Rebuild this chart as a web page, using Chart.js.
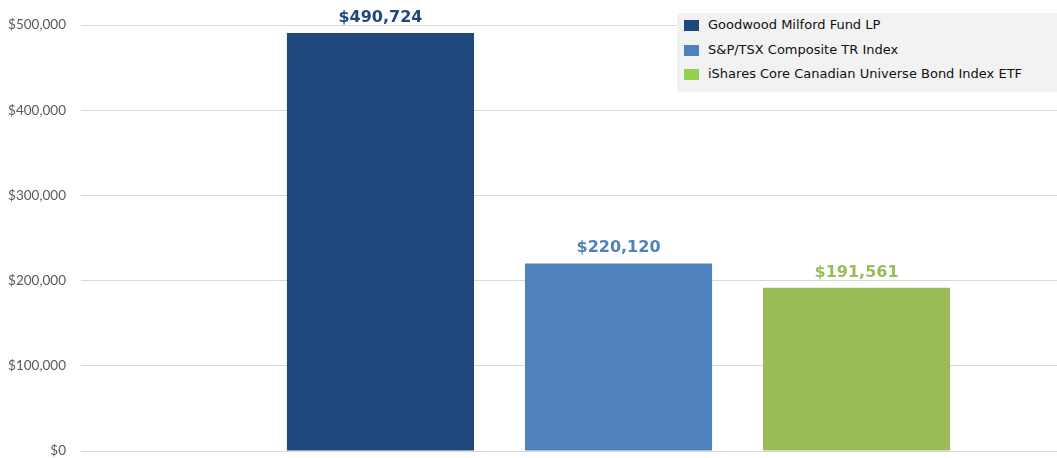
<!DOCTYPE html>
<html>
<head>
<meta charset="utf-8">
<script src="https://cdn.jsdelivr.net/npm/chart.js@4"></script>
<style>
  body { margin: 0; background: #fff; }
  #wrap { position: relative; width: 1057px; height: 458px; }
  #legend {
    position: absolute; left: 677px; top: 13px; width: 380px; height: 79px;
    background: #f2f2f2; font-family: "DejaVu Sans", Verdana, sans-serif;
    font-size: 13px; color: #111;
  }
  #legend .row { position: absolute; left: 7px; height: 16px; line-height: 16px; }
  #legend .sw { position: absolute; left: 0; top: 3px; width: 15px; height: 11px; }
  #legend .txt { position: absolute; left: 24px; top: 0; white-space: nowrap; }
</style>
</head>
<body>
<div id="wrap">
  <canvas id="growthChart" width="1057" height="458"></canvas>
  <div id="legend"></div>
</div>
<script>
// Series names, final values and colours
const names = ['Goodwood Milford Fund LP', 'S&P/TSX Composite TR Index', 'iShares Core Canadian Universe Bond Index ETF']
const values = [490724, 220120, 191561]
const slots = [1, 2, 3]
const barColors = ['#1f497d', '#4f81bd', '#9bbb59']
const legendColors = ['#1f497d', '#4f81bd', '#92d050']
const yTicks = [0, 100000, 200000, 300000, 400000, 500000]

const money = v => '$' + v.toLocaleString('en-US')

// Legend drawn as plain html over the canvas
const legend = document.getElementById('legend')
names.forEach((name, i) => {
  const row = document.createElement('div')
  row.className = 'row'
  row.style.top = (4 + i * 24.5) + 'px'
  row.innerHTML = '<span class="sw" style="background:' + legendColors[i] + '"></span><span class="txt"></span>'
  row.querySelector('.txt').textContent = name
  legend.appendChild(row)
})

// Value labels above each bar
const valueLabels = {
  id: 'valueLabels',
  afterDatasetsDraw(chart) {
    const ctx = chart.ctx
    const meta = chart.getDatasetMeta(0)
    ctx.save()
    ctx.font = 'bold 16px "DejaVu Sans", Verdana, sans-serif'
    ctx.textAlign = 'center'
    ctx.textBaseline = 'alphabetic'
    meta.data.forEach((bar, i) => {
      ctx.fillStyle = barColors[i]
      ctx.fillText(money(values[i]), bar.x, bar.y - 11)
    })
    ctx.restore()
  }
}

const ctx = document.getElementById('growthChart').getContext('2d')
new Chart(ctx, {
  type: 'bar',
  data: {
    datasets: [{
      label: 'Value',
      data: slots.map((x, i) => ({ x: x, y: values[i] })),
      backgroundColor: barColors,
      borderWidth: 0,
      barPercentage: 0.786,
      categoryPercentage: 1
    }]
  },
  options: {
    responsive: false,
    animation: false,
    layout: { padding: { top: 25, right: 0, bottom: 7, left: 0 } },
    scales: {
      x: {
        type: 'linear',
        min: -0.258,
        max: 3.842,
        offset: false,
        display: false,
        afterBuildTicks(scale) {
          scale.ticks = slots.map(v => ({ value: v }))
        },
        grid: { display: false }
      },
      y: {
        min: 0,
        max: 500000,
        afterBuildTicks(scale) {
          scale.ticks = yTicks.map(v => ({ value: v }))
        },
        afterFit(scale) {
          scale.width = 81
          scale.paddingTop = 0
          scale.paddingBottom = 0
        },
        border: { display: false },
        grid: { color: '#d9d9d9', drawTicks: false },
        ticks: {
          padding: 15,
          color: '#595959',
          font: { family: 'Lato', size: 13.5 },
          callback: v => money(v)
        }
      }
    },
    plugins: {
      legend: { display: false },
      tooltip: { enabled: false }
    }
  },
  plugins: [valueLabels]
})
</script>
</body>
</html>
